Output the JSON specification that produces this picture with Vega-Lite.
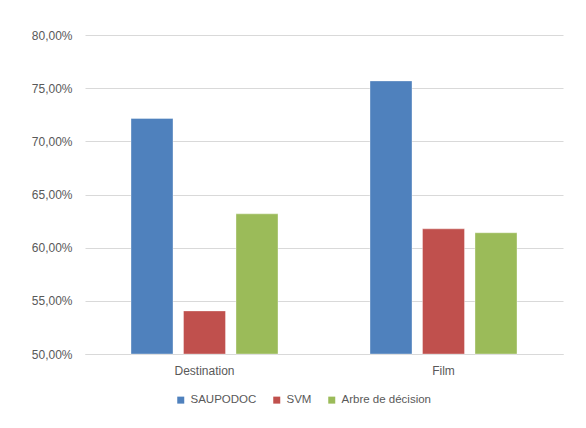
{
  "$schema": "https://vega.github.io/schema/vega-lite/v6.json",
  "width": 478,
  "height": 319,
  "autosize": {"type": "none"},
  "padding": {"left": 85, "top": 35, "right": 23, "bottom": 74},
  "background": "white",
  "data": {
    "values": [
      {"cat": "Destination", "method": "SAUPODOC", "v": 0.7215},
      {"cat": "Destination", "method": "SVM", "v": 0.5405},
      {"cat": "Destination", "method": "Arbre de décision", "v": 0.6318},
      {"cat": "Film", "method": "SAUPODOC", "v": 0.7568},
      {"cat": "Film", "method": "SVM", "v": 0.6177},
      {"cat": "Film", "method": "Arbre de décision", "v": 0.614}
    ]
  },
  "mark": {"type": "bar", "stroke": "white", "strokeWidth": 0.6, "strokeOpacity": 0.6},
  "encoding": {
    "x": {
      "field": "cat",
      "type": "nominal",
      "sort": ["Destination", "Film"],
      "scale": {"paddingInner": 0.385, "paddingOuter": 0.1925},
      "axis": {
        "title": null,
        "labelAngle": 0,
        "ticks": false,
        "domain": true,
        "domainColor": "#D9D9D9",
        "labelPadding": 11,
        "labelFont": "Liberation Sans",
        "labelFontSize": 12,
        "labelColor": "#595959"
      }
    },
    "xOffset": {
      "field": "method",
      "type": "nominal",
      "sort": ["SAUPODOC", "SVM", "Arbre de décision"],
      "scale": {"paddingInner": 0.2, "paddingOuter": 0}
    },
    "y": {
      "field": "v",
      "type": "quantitative",
      "scale": {"domain": [0.5, 0.8], "nice": false, "zero": false},
      "axis": {
        "title": null,
        "values": [0.5, 0.55, 0.6, 0.65, 0.7, 0.75, 0.8],
        "labelExpr": "replace(format(datum.value, '.2%'), '.', ',')",
        "ticks": false,
        "domain": false,
        "grid": true,
        "gridColor": "#D9D9D9",
        "gridWidth": 1,
        "labelPadding": 13,
        "labelFont": "Liberation Sans",
        "labelFontSize": 12,
        "labelColor": "#595959"
      }
    },
    "y2": {"datum": 0.5},
    "color": {
      "field": "method",
      "type": "nominal",
      "sort": ["SAUPODOC", "SVM", "Arbre de décision"],
      "scale": {
        "domain": ["SAUPODOC", "SVM", "Arbre de décision"],
        "range": ["#4F81BD", "#C0504D", "#9BBB59"]
      },
      "legend": {
        "title": null,
        "orient": "none",
        "direction": "horizontal",
        "legendX": 90,
        "legendY": 359,
        "padding": 0,
        "symbolType": "square",
        "symbolSize": 49,
        "symbolStrokeWidth": 0,
        "labelOffset": 4,
        "columnPadding": 14,
        "labelFont": "Liberation Sans",
        "labelFontSize": 11.5,
        "labelColor": "#595959"
      }
    }
  },
  "config": {"view": {"stroke": null}}
}
